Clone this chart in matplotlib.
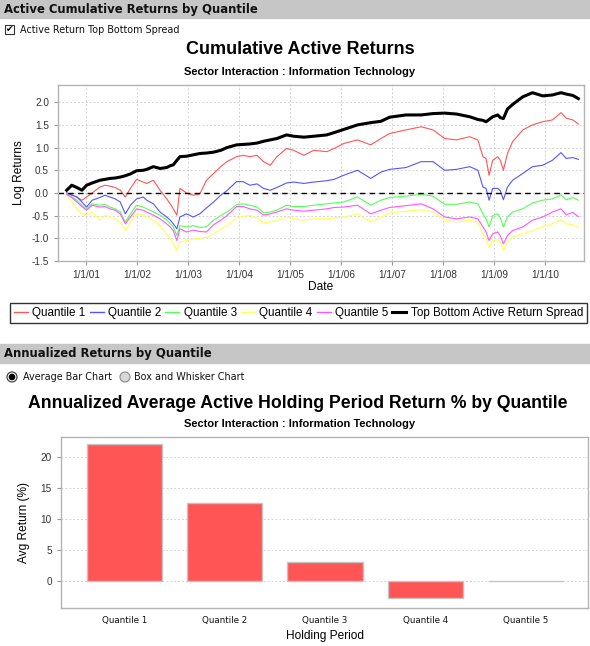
import matplotlib.pyplot as plt
from matplotlib.patches import Rectangle, Circle
from matplotlib.lines import Line2D

plt.rcParams["axes.unicode_minus"] = False
plt.rcParams["font.family"] = ["Liberation Sans", "DejaVu Sans"]

# Dates as decimal years
years = [2000.62, 2000.72, 2000.82, 2000.92, 2001.01, 2001.12, 2001.27, 2001.37,
         2001.47, 2001.57, 2001.67, 2001.77, 2001.87, 2001.99, 2002.12, 2002.19,
         2002.32, 2002.45, 2002.58, 2002.65, 2002.71, 2002.78, 2002.84, 2002.97,
         2003.10, 2003.23, 2003.36, 2003.50, 2003.64, 2003.76, 2003.95, 2004.08,
         2004.21, 2004.35, 2004.48, 2004.61, 2004.74, 2004.93, 2005.07, 2005.27,
         2005.46, 2005.72, 2005.86, 2006.05, 2006.32, 2006.58, 2006.78, 2006.95,
         2007.27, 2007.57, 2007.80, 2008.03, 2008.26, 2008.52, 2008.68, 2008.78,
         2008.84, 2008.90, 2008.97, 2009.07, 2009.12, 2009.18, 2009.26, 2009.36,
         2009.56, 2009.75, 2009.95, 2010.14, 2010.31, 2010.41, 2010.54, 2010.65]

quantile_1 = [0.0, -0.05, -0.09, -0.16, -0.09, 0.0, 0.13, 0.17,
              0.15, 0.12, 0.06, -0.09, 0.10, 0.30, 0.24, 0.21,
              0.28, 0.06, -0.13, -0.24, -0.35, -0.49, 0.10, 0.0,
              -0.05, -0.02, 0.28, 0.43, 0.58, 0.69, 0.80, 0.83,
              0.80, 0.83, 0.69, 0.61, 0.80, 0.98, 0.94, 0.83,
              0.94, 0.91, 0.98, 1.09, 1.17, 1.06, 1.20, 1.31,
              1.39, 1.46, 1.39, 1.20, 1.17, 1.24, 1.17, 0.80,
              0.76, 0.39, 0.72, 0.80, 0.72, 0.50, 0.87, 1.13,
              1.39, 1.50, 1.57, 1.61, 1.77, 1.65, 1.61, 1.52]

quantile_2 = [0.0, -0.04, -0.09, -0.20, -0.31, -0.16, -0.10, -0.05,
              -0.09, -0.13, -0.20, -0.46, -0.27, -0.13, -0.09, -0.16,
              -0.24, -0.42, -0.53, -0.60, -0.68, -0.79, -0.53, -0.46,
              -0.53, -0.46, -0.33, -0.20, -0.05, 0.05, 0.25, 0.25,
              0.17, 0.20, 0.10, 0.06, 0.12, 0.22, 0.24, 0.21,
              0.24, 0.27, 0.30, 0.39, 0.50, 0.32, 0.46, 0.52,
              0.56, 0.69, 0.69, 0.50, 0.52, 0.58, 0.50, 0.13,
              0.10, -0.16, 0.10, 0.10, 0.05, -0.15, 0.13, 0.28,
              0.43, 0.58, 0.61, 0.72, 0.89, 0.76, 0.78, 0.74]

quantile_3 = [-0.01, -0.09, -0.16, -0.27, -0.35, -0.24, -0.27, -0.25,
              -0.31, -0.35, -0.42, -0.64, -0.46, -0.27, -0.31, -0.35,
              -0.42, -0.49, -0.60, -0.68, -0.75, -0.94, -0.72, -0.75,
              -0.72, -0.76, -0.75, -0.60, -0.50, -0.42, -0.26, -0.24,
              -0.27, -0.31, -0.44, -0.42, -0.38, -0.27, -0.30, -0.30,
              -0.27, -0.24, -0.22, -0.20, -0.09, -0.27, -0.16, -0.10,
              -0.07, -0.03, -0.07, -0.25, -0.25, -0.20, -0.24, -0.46,
              -0.57, -0.75, -0.50, -0.46, -0.55, -0.75, -0.53, -0.42,
              -0.35, -0.22, -0.16, -0.13, -0.04, -0.15, -0.10, -0.16]

quantile_4 = [-0.05, -0.20, -0.35, -0.46, -0.49, -0.42, -0.60, -0.49,
              -0.53, -0.57, -0.64, -0.83, -0.64, -0.46, -0.49, -0.53,
              -0.60, -0.72, -0.90, -1.01, -1.12, -1.27, -1.08, -1.05,
              -1.02, -1.00, -0.98, -0.90, -0.80, -0.72, -0.55, -0.52,
              -0.49, -0.55, -0.66, -0.64, -0.60, -0.53, -0.57, -0.60,
              -0.57, -0.57, -0.55, -0.53, -0.46, -0.64, -0.53, -0.44,
              -0.40, -0.37, -0.42, -0.60, -0.64, -0.60, -0.64, -0.90,
              -1.00, -1.20, -1.05, -1.03, -1.10, -1.27, -1.08, -0.97,
              -0.90, -0.83, -0.74, -0.68, -0.59, -0.68, -0.70, -0.75]

quantile_5 = [-0.03, -0.10, -0.20, -0.30, -0.38, -0.27, -0.31, -0.30,
              -0.35, -0.38, -0.46, -0.68, -0.53, -0.35, -0.38, -0.42,
              -0.49, -0.57, -0.68, -0.75, -0.83, -1.05, -0.79, -0.86,
              -0.82, -0.85, -0.86, -0.70, -0.60, -0.50, -0.30, -0.30,
              -0.35, -0.38, -0.49, -0.46, -0.42, -0.35, -0.38, -0.40,
              -0.38, -0.35, -0.32, -0.31, -0.27, -0.46, -0.38, -0.32,
              -0.28, -0.24, -0.35, -0.53, -0.57, -0.53, -0.57, -0.75,
              -0.86, -1.05, -0.90, -0.86, -0.95, -1.12, -0.94, -0.83,
              -0.75, -0.60, -0.53, -0.42, -0.35, -0.48, -0.43, -0.52]

spread = [0.06, 0.17, 0.12, 0.06, 0.17, 0.22, 0.28, 0.30,
          0.32, 0.33, 0.35, 0.38, 0.42, 0.49, 0.50, 0.52,
          0.58, 0.54, 0.56, 0.60, 0.62, 0.72, 0.80, 0.81,
          0.84, 0.87, 0.88, 0.90, 0.94, 1.00, 1.06, 1.07,
          1.08, 1.10, 1.14, 1.17, 1.20, 1.28, 1.25, 1.23,
          1.25, 1.28, 1.33, 1.40, 1.50, 1.55, 1.58, 1.67,
          1.72, 1.72, 1.75, 1.76, 1.74, 1.68, 1.62, 1.60,
          1.57, 1.62, 1.68, 1.72, 1.66, 1.64, 1.85, 1.95,
          2.12, 2.21, 2.14, 2.16, 2.21, 2.18, 2.15, 2.08]

series_names = ["Quantile 1", "Quantile 2", "Quantile 3", "Quantile 4",
                "Quantile 5", "Top Bottom Active Return Spread"]
series_colors = ["#ff5555", "#5555ff", "#55ff55", "#ffff55", "#ff55ff", "black"]

tick_years = [2001, 2002, 2003, 2004, 2005, 2006, 2007, 2008, 2009, 2010]
tick_labels = ["1/1/01", "1/1/02", "1/1/03", "1/1/04", "1/1/05",
               "1/1/06", "1/1/07", "1/1/08", "1/1/09", "1/1/10"]

# Bar chart data
bar_labels = ["Quantile 1", "Quantile 2", "Quantile 3", "Quantile 4", "Quantile 5"]
avg_return = [22.1, 12.6, 3.2, -2.7, 0.1]

W, H = 590, 646
fig = plt.figure(figsize=(W / 100, H / 100), dpi=100)

# Panel decoration (headers, checkbox, radio buttons) in pixel coordinates
ui = fig.add_axes([0, 0, 1, 1], zorder=-1)
ui.set_xlim(0, W)
ui.set_ylim(H, 0)
ui.axis("off")
hdr = dict(fontsize=8.4, fontweight="bold", family="DejaVu Sans", va="center", color="#111111")
ui.add_patch(Rectangle((0, 0), W, 18, color="#c6c6c6"))
ui.text(4, 9, "Active Cumulative Returns by Quantile", **hdr)
ui.add_patch(Rectangle((0, 344), W, 19, color="#c6c6c6"))
ui.text(4, 353.5, "Annualized Returns by Quantile", **hdr)

small = dict(fontsize=6.9, family="DejaVu Sans", va="center", color="#111111")
ui.add_patch(Rectangle((5, 25), 9, 9, facecolor="white", edgecolor="#333333", lw=0.8))
ui.text(9.5, 29.5, "\u2714", ha="center", fontsize=6.5, family="DejaVu Sans", va="center")
ui.text(20, 30, "Active Return Top Bottom Spread", **small)

ui.add_patch(Circle((12, 377), 5, facecolor="white", edgecolor="#333333", lw=0.8))
ui.add_patch(Circle((12, 377), 2.6, color="black"))
ui.text(23, 377, "Average Bar Chart", **small)
ui.add_patch(Circle((125, 377), 5, facecolor="#d8d8d8", edgecolor="#888888", lw=0.8))
ui.text(134, 377, "Box and Whisker Chart", **small)

# Titles
fig.text(300 / W, 1 - 49 / H, "Cumulative Active Returns", ha="center", va="center",
         fontsize=13, fontweight="bold")
fig.text(300 / W, 1 - 72 / H, "Sector Interaction : Information Technology", ha="center",
         va="center", fontsize=8, fontweight="bold")
fig.text(298 / W, 1 - 403 / H, "Annualized Average Active Holding Period Return % by Quantile",
         ha="center", va="center", fontsize=12.7, fontweight="bold")
fig.text(300 / W, 1 - 424 / H, "Sector Interaction : Information Technology", ha="center",
         va="center", fontsize=8, fontweight="bold")


def style_axes(ax):
    for s in ax.spines.values():
        s.set_color("#b4b4b4")
        s.set_linewidth(1)
    ax.tick_params(colors="#999999", labelcolor="#333333", labelsize=7.2, length=3, width=0.8)


# Line chart
ax1 = fig.add_axes([58 / W, 1 - 261 / H, 526 / W, 176 / H])
style_axes(ax1)
all_series = [quantile_1, quantile_2, quantile_3, quantile_4, quantile_5, spread]
handles = []
for vals, name, col in zip(all_series, series_names, series_colors):
    lw = 2.2 if col == "black" else 0.8
    ax1.plot(years, vals, color=col, lw=lw, label=name)
    handles.append(Line2D([], [], color=col, lw=2.2 if col == "black" else 1.0))
ax1.axhline(0, color="black", lw=1, ls=(0, (4, 3)))
ax1.set_xlim(2000.45, 2010.76)
ax1.set_ylim(-1.5, 2.38)
ax1.set_xticks(tick_years)
ax1.set_xticklabels(tick_labels)
ax1.set_yticks([-1.5, -1.0, -0.5, 0.0, 0.5, 1.0, 1.5, 2.0])
ax1.set_yticklabels(["%.1f" % v for v in [-1.5, -1.0, -0.5, 0.0, 0.5, 1.0, 1.5, 2.0]])
ax1.grid(True, color="#d4d4d4", ls=(0, (2, 2)), lw=0.7)
ax1.set_axisbelow(True)
ax1.set_xlabel("Date", fontsize=8.6, labelpad=1)
ax1.set_ylabel("Log Returns", fontsize=8.6, labelpad=5)

leg = fig.legend(handles, series_names, loc="center",
                 bbox_to_anchor=(10 / W, 1 - 324 / H, 577 / W, 22 / H), mode="expand",
                 ncol=6, frameon=True, fancybox=False, edgecolor="black", fontsize=8.4,
                 handlelength=1.2, handletextpad=0.35, columnspacing=0.4, borderpad=0.35,
                 borderaxespad=0)
leg.get_frame().set_linewidth(1)

# Bar chart
ax2 = fig.add_axes([61 / W, 1 - 607.5 / H, 527 / W, 170.5 / H])
style_axes(ax2)
x = list(range(len(bar_labels)))
ax2.bar(x, avg_return, width=0.75, color="#ff5555", edgecolor="#c4c4c4", lw=1, zorder=2)
ax2.set_xlim(-0.63, 4.62)
ax2.set_ylim(-4.2, 23.3)
ax2.set_yticks([0, 5, 10, 15, 20])
ax2.set_xticks(x)
ax2.set_xticklabels(bar_labels, family="DejaVu Sans", fontsize=6.3, color="#111111")
ax2.tick_params(axis="x", length=0, pad=6)
ax2.yaxis.grid(True, color="#d4d4d4", ls=(0, (2, 2)), lw=0.7)
ax2.set_axisbelow(True)
ax2.set_xlabel("Holding Period", fontsize=8.6, labelpad=4)
ax2.set_ylabel("Avg Return (%)", fontsize=8.6, labelpad=8)

fig.savefig("out.png", dpi=100)
